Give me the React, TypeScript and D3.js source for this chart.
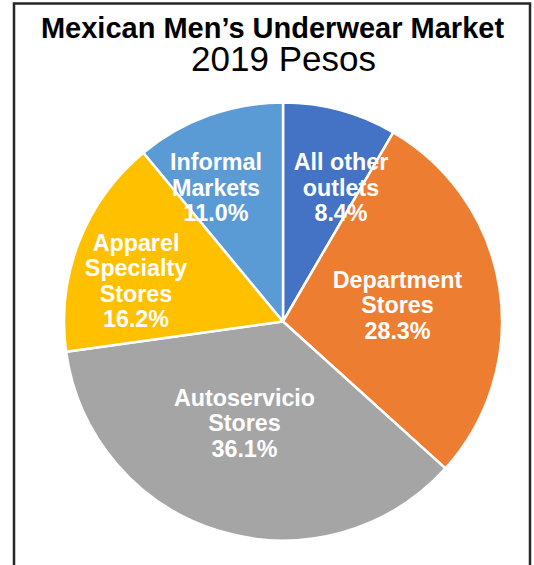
import React from "react";
import * as d3 from "d3";

const categories = [
  "All other outlets",
  "Department Stores",
  "Autoservicio Stores",
  "Apparel Specialty Stores",
  "Informal Markets",
];
const shares = [8.4, 28.3, 36.1, 16.2, 11.0];
const labelLines = [
  ["All other", "outlets"],
  ["Department", "Stores"],
  ["Autoservicio", "Stores"],
  ["Apparel", "Specialty", "Stores"],
  ["Informal", "Markets"],
];
const colors = ["#4472C4", "#ED7D31", "#A5A5A5", "#FFC000", "#5B9BD5"];
const titleText = "Mexican Men\u2019s Underwear Market";
const subtitleText = "2019 Pesos";

// label block offsets (layout) relative to pie center
const labelOffsets: [number, number][] = [
  [58, -134],
  [114.5, -16.5],
  [-38.5, 101.5],
  [-147, -40.5],
  [-67, -134],
];

const W = 534;
const H = 565;
const cx = 283;
const cy = 321.5;
const R = 219;
const FONT = "Arial, 'Liberation Sans', Helvetica, sans-serif";

export default function App() {
  const data = categories.map((c, i) => ({ name: c, value: shares[i], i }));
  const pie = d3
    .pie<{ name: string; value: number; i: number }>()
    .value((d) => d.value)
    .sort(null);
  const arcs = pie(data);
  const arcGen = d3
    .arc<d3.PieArcDatum<{ name: string; value: number; i: number }>>()
    .innerRadius(0)
    .outerRadius(R);
  const fmt = d3.format(".1f");
  const lineH = 25.5;
  const fs = 23.3;

  return (
    <svg
      width={W}
      height={H}
      style={{ position: "absolute", left: 0, top: 0, display: "block" }}
    >
      <rect x={0} y={0} width={W} height={H} fill="#ffffff" />
      <rect
        x={14}
        y={3.5}
        width={516}
        height={H + 20}
        fill="none"
        stroke="#262626"
        strokeWidth={2.5}
      />
      <text textAnchor="middle" fontFamily={FONT} fill="#000">
        <tspan x={272.5} y={38} fontWeight="bold" fontSize={29}>
          {titleText}
        </tspan>
        <tspan x={283.5} y={70.5} fontSize={35}>
          {subtitleText}
        </tspan>
      </text>
      <g transform={`translate(${cx},${cy})`}>
        {arcs.map((a, k) => (
          <path
            key={k}
            d={arcGen(a) || ""}
            fill={colors[a.data.i]}
            stroke="#ffffff"
            strokeWidth={2.5}
            strokeLinejoin="round"
          />
        ))}
        {arcs.map((a, k) => {
          const lines = [...labelLines[a.data.i], fmt(a.data.value) + "%"];
          const [ox, oy] = labelOffsets[a.data.i];
          const n = lines.length;
          const firstBaseline = oy + 8 - ((n - 1) * lineH) / 2;
          return (
            <text
              key={"t" + k}
              textAnchor="middle"
              fontFamily={FONT}
              fontWeight="bold"
              fontSize={fs}
              fill="#ffffff"
            >
              {lines.map((l, j) => (
                <tspan key={j} x={ox} y={firstBaseline + j * lineH}>
                  {l}
                </tspan>
              ))}
            </text>
          );
        })}
      </g>
    </svg>
  );
}
